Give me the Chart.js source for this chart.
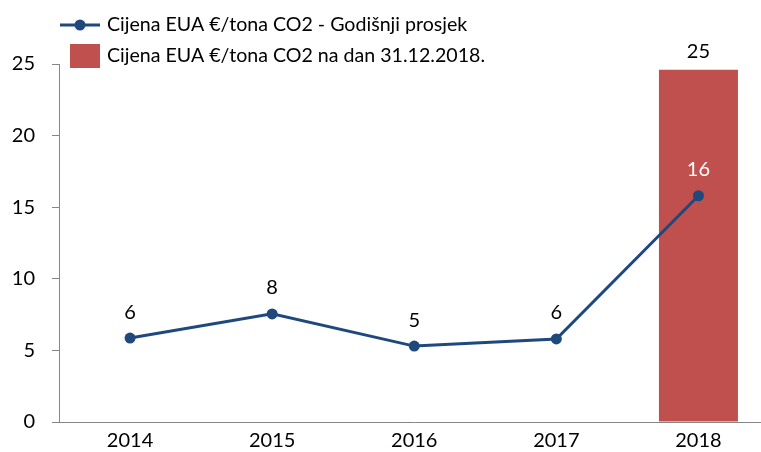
<!DOCTYPE html>
<html>
<head>
<meta charset="utf-8">
<script src="https://cdn.jsdelivr.net/npm/chart.js@4/dist/chart.umd.min.js"></script>
<style>
  html, body { margin: 0; padding: 0; overflow: hidden; background: #fff; }
  #wrap { width: 775px; height: 452px; }
</style>
</head>
<body>
<div id="wrap"><canvas id="chart" width="775" height="452"></canvas></div>
<script>
// ====== DADOS ======
const godine = ["2014", "2015", "2016", "2017", "2018"];
const prosjek = [5.86, 7.55, 5.3, 5.8, 15.8];
const prosjekOznake = ["6", "8", "5", "6", "16"];
const naDan = [null, null, null, null, 24.6];
const naDanOznake = ["", "", "", "", "25"];
const yTicks = [0, 5, 10, 15, 20, 25];

const plava = "#1F497D";
const crvena = "#C0504D";
const font = "Lato";

// ====== LEGENDA ======
const legendaPlugin = {
  id: "legenda",
  afterDraw(chart) {
    const ctx = chart.ctx;
    const ds = chart.data.datasets;
    ctx.save();
    ctx.font = `19.6px ${font}`;
    ctx.fillStyle = "#000";
    ctx.textBaseline = "middle";
    // linija
    ctx.strokeStyle = plava;
    ctx.lineWidth = 3;
    ctx.beginPath();
    ctx.moveTo(60, 25);
    ctx.lineTo(100, 25);
    ctx.stroke();
    ctx.fillStyle = plava;
    ctx.beginPath();
    ctx.arc(80, 25, 5.5, 0, Math.PI * 2);
    ctx.fill();
    ctx.fillStyle = "#000";
    ctx.fillText(ds[0].label, 107, 25);
    // stupac
    ctx.fillStyle = crvena;
    ctx.fillRect(70, 44, 30, 24);
    ctx.fillStyle = "#000";
    ctx.fillText(ds[1].label, 107, 56);
    ctx.restore();
  }
};

// ====== OZNAKE VRIJEDNOSTI ======
const oznakePlugin = {
  id: "oznake",
  afterDatasetsDraw(chart) {
    const ctx = chart.ctx;
    ctx.save();
    ctx.font = `20px ${font}`;
    ctx.textAlign = "center";
    ctx.textBaseline = "middle";
    chart.getDatasetMeta(1).data.forEach((el, i) => {
      if (!naDanOznake[i]) return;
      ctx.fillStyle = "#000";
      ctx.fillText(naDanOznake[i], el.x, el.y - 18);
    });
    chart.getDatasetMeta(0).data.forEach((el, i) => {
      ctx.fillStyle = i === 4 ? "#fff" : "#000";
      ctx.fillText(prosjekOznake[i], el.x, el.y - 26);
    });
    ctx.restore();
  }
};

new Chart(document.getElementById("chart"), {
  data: {
    labels: godine,
    datasets: [
      {
        type: "line",
        label: "Cijena EUA €/tona CO2 - Godišnji prosjek",
        data: prosjek,
        borderColor: plava,
        backgroundColor: plava,
        borderWidth: 3,
        pointRadius: 5.5,
        pointBackgroundColor: plava,
        pointBorderWidth: 0,
        tension: 0,
        order: 0
      },
      {
        type: "bar",
        label: "Cijena EUA €/tona CO2 na dan 31.12.2018.",
        data: naDan,
        backgroundColor: crvena,
        categoryPercentage: 1,
        barPercentage: 0.556,
        order: 1
      }
    ]
  },
  options: {
    responsive: false,
    animation: false,
    layout: { padding: { top: 64, left: 0, right: 0, bottom: 0 } },
    plugins: { legend: { display: false }, tooltip: { enabled: false } },
    scales: {
      x: {
        offset: true,
        afterFit: s => { s.height = 30; },
        grid: { display: false, drawTicks: false },
        border: { display: true, color: "#868686", width: 1 },
        ticks: { color: "#000", font: { family: font, size: 20 }, padding: 7 }
      },
      y: {
        min: 0,
        max: 25,
        afterBuildTicks: s => { s.ticks = yTicks.map(v => ({ value: v })); },
        afterFit: s => { s.width = 59; },
        grid: { display: true, drawOnChartArea: false, drawTicks: true, tickLength: 7, color: "#868686" },
        border: { display: true, color: "#868686", width: 1 },
        ticks: { color: "#000", font: { family: font, size: 20 }, padding: 17 }
      }
    }
  },
  plugins: [legendaPlugin, oznakePlugin]
});
</script>
</body>
</html>
